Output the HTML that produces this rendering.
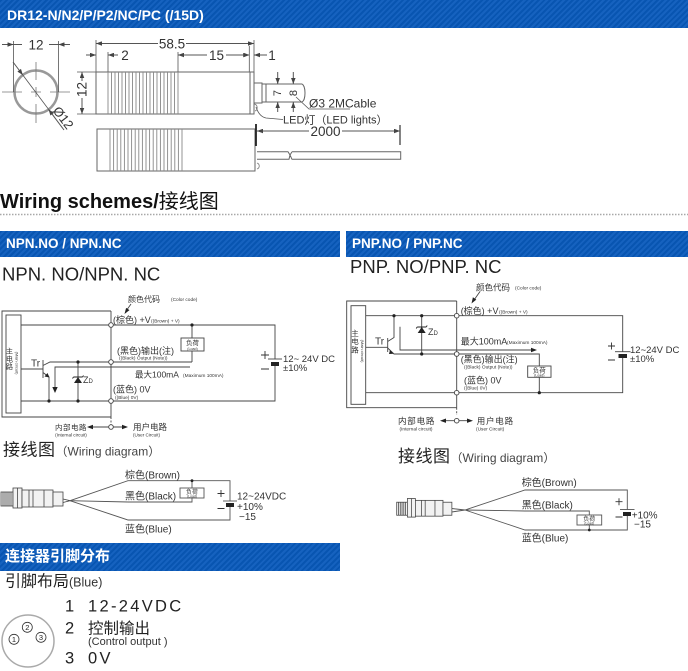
<!DOCTYPE html>
<html><head><meta charset="utf-8">
<style>
*{margin:0;padding:0;box-sizing:border-box}
body{width:688px;height:671px;background:#fff;position:relative;overflow:hidden;font-family:"Liberation Sans","Noto Sans CJK SC",sans-serif;}
.bar{position:absolute;background:repeating-linear-gradient(135deg,#0855b1 0 2px,#1662bf 2px 4px);color:#fff;font-weight:bold;white-space:nowrap}
svg{position:absolute;left:0;top:0}
</style></head><body>
<div class="bar" style="left:0;top:0;width:688px;height:28px;font-size:14px;line-height:30px;padding-left:7px">DR12-N/N2/P/P2/NC/PC (/15D)</div>
<div class="bar" style="left:0;top:231px;width:340px;height:26px;font-size:13.5px;line-height:26px;padding-left:6px">NPN.NO / NPN.NC</div>
<div class="bar" style="left:346px;top:231px;width:342px;height:26px;font-size:13.5px;line-height:26px;padding-left:6px">PNP.NO / PNP.NC</div>
<div class="bar" style="left:0;top:543px;width:340px;height:28px;font-size:15px;line-height:28px;padding-left:5px">连接器引脚分布</div>

<svg width="688" height="671" viewBox="0 0 688 671" font-family="'Liberation Sans','Noto Sans CJK SC',sans-serif">
<defs>
<marker id="a" viewBox="0 0 8 6" refX="8" refY="3" markerWidth="7" markerHeight="4.5" orient="auto-start-reverse" markerUnits="userSpaceOnUse"><path d="M0 0L8 3L0 6z" fill="#444"/></marker>
</defs>

<!-- ===== Dimension drawing ===== -->
<g stroke="#555" fill="none" stroke-width="1">
  <circle cx="36" cy="92" r="21.5" stroke="#999" stroke-width="2.5"/>
  <path d="M2 92H22M31 92H41M50 92H70M36 62V80M36 87V97M36 104V123" stroke="#777" stroke-width="0.8"/>
  <path d="M13.5 41V92M58.5 41V92" stroke-width="0.8"/>
  <line x1="2" y1="44.5" x2="13.5" y2="44.5" marker-end="url(#a)"/>
  <line x1="70" y1="44.5" x2="58.5" y2="44.5" marker-end="url(#a)"/>
  <path d="M13.5 44.5H22M49 44.5H58.5"/>
  <path d="M22.8 75L48.6 109.4" stroke-width="0.8"/>
  <line x1="13" y1="62" x2="22.8" y2="75" marker-end="url(#a)"/>
  <line x1="64" y1="130" x2="48.6" y2="109.4" marker-end="url(#a)"/>

  <!-- side view dims -->
  <path d="M96 40V72M254 40V72M249.3 46V72M108 52V72M178 52V72" stroke-width="0.8"/>
  <line x1="158" y1="43.5" x2="96" y2="43.5" marker-end="url(#a)"/>
  <line x1="186" y1="43.5" x2="254" y2="43.5" marker-end="url(#a)"/>
  <line x1="86" y1="55" x2="96" y2="55" marker-end="url(#a)"/>
  <line x1="118" y1="55" x2="108" y2="55" marker-end="url(#a)"/>
  <line x1="207" y1="55" x2="178" y2="55" marker-end="url(#a)"/>
  <line x1="226" y1="55" x2="249.3" y2="55" marker-end="url(#a)"/>
  <line x1="236" y1="55" x2="249.3" y2="55" marker-end="url(#a)"/>
  <line x1="267" y1="55" x2="254" y2="55" marker-end="url(#a)"/>
  <!-- vertical 12 -->
  <path d="M77 72H96M77 114H96" stroke-width="0.8"/>
  <line x1="82" y1="81" x2="82" y2="72" marker-end="url(#a)"/>
  <line x1="82" y1="98" x2="82" y2="114" marker-end="url(#a)"/>
  <!-- body 1 -->
  <rect x="96" y="72" width="154" height="42" stroke="#666"/>
  <rect x="250" y="72" width="4" height="42" stroke="#666"/>
  <path d="M108 72V114M111.5 72V114M115 72V114M118.5 72V114M122 72V114M125.5 72V114M129 72V114M132.5 72V114M136 72V114M139.5 72V114M143 72V114M146.5 72V114M150 72V114M153.5 72V114M157 72V114M160.5 72V114M164 72V114M167.5 72V114M171 72V114M174.5 72V114M178 72V114" stroke="#888" stroke-width="0.9"/>
  <!-- cable stub -->
  <rect x="254" y="83" width="8" height="20" stroke="#666"/>
  <path d="M262 84H302M262 102H302M302 84C306 86 306 100 302 102M266 84V102" stroke="#666"/>
  <line x1="277.7" y1="72" x2="277.7" y2="84" marker-end="url(#a)"/>
  <line x1="277.7" y1="112" x2="277.7" y2="102" marker-end="url(#a)"/>
  <line x1="293.3" y1="72" x2="293.3" y2="84" marker-end="url(#a)"/>
  <line x1="293.3" y1="112" x2="293.3" y2="102" marker-end="url(#a)"/>
  <path d="M296 97L309 109H350" stroke-width="0.8"/>
  <path d="M256 107C258 113 261 117 266 118L283 119.5" stroke-width="0.8"/>
  <path d="M254.5 104C258 105 258 110 255 111" stroke="#777" stroke-width="0.8"/>

  <!-- body 2 -->
  <rect x="97" y="129" width="158" height="42" stroke="#666"/>
  <path d="M110 129V171M113.6 129V171M117.2 129V171M120.8 129V171M124.4 129V171M128 129V171M131.6 129V171M135.2 129V171M138.8 129V171M142.4 129V171M146 129V171M149.6 129V171M153.2 129V171M156.8 129V171M160.4 129V171M164 129V171M167.6 129V171M171.2 129V171M174.8 129V171M178.4 129V171M182 129V171" stroke="#888" stroke-width="0.9"/>
  <path d="M256 124V146" stroke="#222" stroke-width="1.8"/>
  <path d="M400 125V145" stroke="#333" stroke-width="1.2"/>
  <line x1="309" y1="131" x2="257" y2="131" marker-end="url(#a)"/>
  <line x1="342" y1="131" x2="400" y2="131" marker-end="url(#a)"/>
  <path d="M257 151.7H288L290 155L289 159.3H257M292 151.7L290 155L292 159.3H400.7V151.7H292" stroke="#666"/>
  <path d="M257 163C260 164 260 168 257 169" stroke="#777" stroke-width="0.8"/>
</g>
<g fill="#333" font-size="13.5">
  <text x="36" y="49.5" text-anchor="middle">12</text>
  <text transform="translate(52.3,110.7) rotate(53)" font-size="13">Ø12</text>
  <text x="172" y="48.5" text-anchor="middle">58.5</text>
  <text x="125" y="60" text-anchor="middle">2</text>
  <text x="216.5" y="60" text-anchor="middle">15</text>
  <text x="272" y="60" text-anchor="middle">1</text>
  <text transform="translate(86.7,89.5) rotate(-90)" text-anchor="middle">12</text>
  <text transform="translate(281,93) rotate(-90)" text-anchor="middle" font-size="11">7</text>
  <text transform="translate(297,93) rotate(-90)" text-anchor="middle" font-size="11">8</text>
  <text x="309" y="107.5" font-size="12">Ø3 2MCable</text>
  <text x="283" y="123.5" font-size="11">LED灯（LED lights）</text>
  <text x="325.5" y="136" text-anchor="middle">2000</text>
</g>

<!-- ===== Wiring schemes title ===== -->
<text x="0" y="208" font-size="20" font-weight="bold" fill="#111">Wiring schemes/<tspan font-weight="normal">接线图</tspan></text>
<line x1="0" y1="214.5" x2="688" y2="214.5" stroke="#a8a8a8" stroke-width="1.5" stroke-dasharray="1.5 1.5"/>

<text x="2" y="280.5" font-size="18.5" fill="#222">NPN. NO/NPN. NC</text>
<text x="350" y="273" font-size="18.5" fill="#222">PNP. NO/PNP. NC</text>

<!-- ===== NPN circuit ===== -->
<g stroke="#444" fill="none" stroke-width="0.9">
  <path d="M111 311H2V417H111"/>
  <path d="M111 311V417"/>
  <path d="M111 417V426" stroke-dasharray="2 1.5"/>
  <rect x="6" y="315" width="15" height="98"/>
  <path d="M21 325H275V359M275 366V401H21"/>
  <path d="M268 359H282"/>
  <path d="M21 369H43M43 360V378M43 365.5L50 362H192M43 372.5L49 377V401"/>
  <path d="M78 362V401"/>
  <path d="M192 325V338M192 351V362"/>
  <rect x="181" y="338" width="23" height="13"/>
  <path d="M190 367H55V388"/>
  <path d="M92 427H108.7M113.3 427H123"/>
  <path d="M131 304L126 311"/>
  <path d="M261 355H269M265 351V359M261 369H269" stroke="#333"/>
  <path d="M73.5 377H82.5M73.5 377l-1 1.5M82.5 377l1 -1.5" stroke="#222"/>
</g>
<g fill="#222">
  <rect x="271" y="362" width="8" height="4"/>
  <path d="M74 383H82L78 377Z"/>
  <path d="M55 393L52.3 387H57.7Z"/>
  <path d="M49.5 377.5L44.5 376.5L47.5 373Z"/>
  <path d="M87 427L93 424.8V429.2Z"/>
  <path d="M128 427L122 424.8V429.2Z"/>
  <path d="M124.5 314L129.5 310.1L126.1 307.9Z"/>
  <circle cx="192" cy="325" r="1.6"/><circle cx="78" cy="362" r="1.6"/><circle cx="78" cy="401" r="1.6"/><circle cx="49" cy="401" r="1.6"/>
</g>
<g fill="#fff" stroke="#444" stroke-width="0.9">
  <circle cx="111" cy="325" r="2.3"/><circle cx="111" cy="362" r="2.3"/><circle cx="111" cy="401" r="2.3"/><circle cx="111" cy="427" r="2.3"/>
</g>
<g fill="#333">
  <text x="128" y="302" font-size="8">颜色代码</text>
  <text x="171" y="301" font-size="4.8">(Color code)</text>
  <text x="113" y="323" font-size="9">(棕色) +V</text>
  <text x="151" y="322.5" font-size="4.8">((Brown) + V)</text>
  <text x="117" y="354" font-size="9">(黑色)输出(注)</text>
  <text x="119" y="359.5" font-size="4.8">((Black) Output (Note))</text>
  <text x="135" y="377.5" font-size="8.5">最大100mA</text>
  <text x="183" y="377" font-size="4.8">(Maximum 100mA)</text>
  <text x="113" y="392.5" font-size="9">(蓝色) 0V</text>
  <text x="115" y="399" font-size="4.8">((Blue) 0V)</text>
  <text x="192.5" y="345" font-size="6.5" text-anchor="middle">负荷</text>
  <text x="192.5" y="349.8" font-size="3.6" text-anchor="middle">(Load)</text>
  <text x="283" y="362" font-size="9.5">12~ 24V DC</text>
  <text x="283" y="371" font-size="9.5">±10%</text>
  <text x="31" y="366.5" font-size="10">Tr</text>
  <text x="83" y="383" font-size="9">Z<tspan font-size="6">D</tspan></text>
  <text x="9.5" y="353.5" font-size="7" text-anchor="middle">主</text>
  <text x="9.5" y="361.5" font-size="7" text-anchor="middle">电</text>
  <text x="9.5" y="369" font-size="7" text-anchor="middle">路</text>
  <text transform="translate(15.5,363) rotate(90)" font-size="4" text-anchor="middle">(Main circuit)</text>
  <text x="55" y="430" font-size="7.5" letter-spacing="0.5">内部电路</text>
  <text x="71" y="436.5" font-size="4.6" text-anchor="middle">(Internal circuit)</text>
  <text x="133" y="430" font-size="8.5">用户电路</text>
  <text x="133" y="436.5" font-size="4.6">(User Circuit)</text>
</g>

<!-- ===== PNP circuit ===== -->
<g stroke="#444" fill="none" stroke-width="0.9">
  <path d="M456.7 301H346.7V407.7H456.7"/>
  <path d="M456.7 301V407.7"/>
  <path d="M456.7 407.7V415" stroke-dasharray="2 1.5"/>
  <rect x="351" y="305.7" width="14.7" height="98.6"/>
  <path d="M365.7 315.7H622.7V351.7M622.7 358V392.7H365.7"/>
  <path d="M615 351.7H630.5"/>
  <path d="M365.7 347.3H387.7M387.7 338V352M387.7 341.5L394 337.5V315.7M387.7 348L394 354H539.3V366M539.3 377.3V392.7"/>
  <path d="M421.7 315.7V354"/>
  <rect x="527.7" y="366" width="23.3" height="11.3"/>
  <path d="M400 326.7V350H533"/>
  <path d="M445 420.7H454.4M459 420.7H468"/>
  <path d="M480 291.5L473 301.5"/>
  <path d="M608 346H615M611.5 342.5V349.5M608 360H615" stroke="#333"/>
  <path d="M417.2 327H426.2M417.2 327l-1 1.5M426.2 327l1 -1.5" stroke="#222"/>
</g>
<g fill="#222">
  <rect x="618.5" y="354" width="8.5" height="4"/>
  <path d="M417.7 333H425.7L421.7 327Z"/>
  <path d="M537 350L531 347.8V352.2Z"/>
  <path d="M390 350L393.5 353.8L389 354Z"/>
  <path d="M440 420.7L446 418.5V422.9Z"/>
  <path d="M473 420.7L467 418.5V422.9Z"/>
  <path d="M471.5 303.5L476.3 299.6L472.9 297.3Z"/>
  <circle cx="394" cy="315.7" r="1.6"/><circle cx="421.7" cy="315.7" r="1.6"/><circle cx="421.7" cy="354" r="1.6"/><circle cx="539.3" cy="392.7" r="1.6"/>
</g>
<g fill="#fff" stroke="#444" stroke-width="0.9">
  <circle cx="456.7" cy="315.7" r="2.3"/><circle cx="456.7" cy="354" r="2.3"/><circle cx="456.7" cy="392.7" r="2.3"/><circle cx="456.7" cy="420.7" r="2.3"/>
</g>
<g fill="#333">
  <text x="476" y="290.5" font-size="8.5">颜色代码</text>
  <text x="515" y="289.5" font-size="4.8">(Color code)</text>
  <text x="460.7" y="314" font-size="9">(棕色) +V</text>
  <text x="499" y="313.5" font-size="4.8">((Brown) + V)</text>
  <text x="460.7" y="344.5" font-size="9">最大100mA</text>
  <text x="507" y="344" font-size="4.8">(Maximum 100mA)</text>
  <text x="460.7" y="362.5" font-size="9">(黑色)输出(注)</text>
  <text x="464" y="368.5" font-size="4.8">((Black) Output (Note))</text>
  <text x="464" y="383.5" font-size="9">(蓝色) 0V</text>
  <text x="464" y="389.5" font-size="4.8">((Blue) 0V)</text>
  <text x="539.3" y="372.5" font-size="6.5" text-anchor="middle">负荷</text>
  <text x="539.3" y="376.6" font-size="3.6" text-anchor="middle">(Load)</text>
  <text x="630" y="353" font-size="9.5">12~24V DC</text>
  <text x="630" y="362" font-size="9.5">±10%</text>
  <text x="375" y="344.5" font-size="10">Tr</text>
  <text x="428" y="335" font-size="9">Z<tspan font-size="6">D</tspan></text>
  <text x="355" y="335.8" font-size="7.5" text-anchor="middle">主</text>
  <text x="355" y="344.2" font-size="7.5" text-anchor="middle">电</text>
  <text x="355" y="352.5" font-size="7.5" text-anchor="middle">路</text>
  <text transform="translate(361,351) rotate(90)" font-size="4" text-anchor="middle">(Main circuit)</text>
  <text x="398" y="424" font-size="8.5" letter-spacing="0.8">内部电路</text>
  <text x="416" y="430.5" font-size="4.8" text-anchor="middle">(Internal circuit)</text>
  <text x="476.7" y="424" font-size="8.5" letter-spacing="0.8">用户电路</text>
  <text x="476" y="430.5" font-size="4.8">(User Circuit)</text>
</g>

<!-- ===== Wiring diagram titles ===== -->
<text x="3" y="455.5" font-size="17" fill="#222" letter-spacing="0.5">接线图<tspan font-size="12" fill="#444" letter-spacing="0">（Wiring diagram）</tspan></text>
<text x="398" y="462" font-size="17" fill="#222" letter-spacing="0.5">接线图<tspan font-size="12" fill="#444" letter-spacing="0">（Wiring diagram）</tspan></text>

<!-- ===== Bottom-left wiring ===== -->
<g id="sensorL" transform="translate(1,488)" stroke="#444" stroke-width="0.8" fill="#f2f2f2">
  <rect x="0" y="4" width="12" height="14"/>
  <path d="M2 4V18M4 4V18M6 4V18M8 4V18M10 4V18" fill="none"/>
  <rect x="12" y="0" width="9" height="20"/>
  <path d="M16.5 0V20" fill="none"/>
  <rect x="21" y="2" width="31" height="17"/>
  <path d="M28 2V19M32 2V19M43 2V19" fill="none"/>
  <rect x="52" y="4" width="10" height="14"/>
  <path d="M62 11L69 12.7M62 14.5L69 12.7" fill="none"/>
</g>
<g stroke="#555" fill="none" stroke-width="0.9">
  <path d="M70 500.7L128 480.7H230V501M230 507V520H128L70 500.7"/>
  <path d="M70 500.7L128 502H192V498"/>
  <path d="M192 480.7V488"/>
  <rect x="180" y="488" width="24" height="10"/>
  <path d="M223 501H237"/>
  <path d="M217.5 493.5H224.5M221 490V497M217.5 508.5H224.5" stroke="#333"/>
</g>
<rect x="226" y="503" width="8" height="4" fill="#222"/>
<circle cx="192" cy="480.7" r="1.4" fill="#222"/>
<g fill="#333">
  <text x="125" y="478.5" font-size="10">棕色(Brown)</text>
  <text x="125" y="499.5" font-size="10">黑色(Black)</text>
  <text x="125" y="532.5" font-size="10">蓝色(Blue)</text>
  <text x="192" y="494" font-size="6" text-anchor="middle">负荷</text>
  <text x="192" y="497.5" font-size="3.4" text-anchor="middle">(Load)</text>
  <text x="237" y="499.5" font-size="10">12~24VDC</text>
  <text x="237" y="510" font-size="10">+10%</text>
  <text x="239" y="520" font-size="10">−15</text>
</g>

<!-- ===== Bottom-right wiring ===== -->
<g transform="translate(396.7,498.5) scale(0.89,0.93)" stroke="#444" stroke-width="0.85" fill="#f2f2f2">
  <rect x="0" y="4" width="12" height="14"/>
  <path d="M2 4V18M4 4V18M6 4V18M8 4V18M10 4V18" fill="none"/>
  <rect x="12" y="0" width="9" height="20"/>
  <path d="M16.5 0V20" fill="none"/>
  <rect x="21" y="2" width="31" height="17"/>
  <path d="M28 2V19M32 2V19M43 2V19" fill="none"/>
  <rect x="52" y="4" width="10" height="14"/>
</g>
<g stroke="#555" fill="none" stroke-width="0.9">
  <path d="M451.7 508.5L465 510M451.7 512L465 510"/>
  <path d="M465 510L525 490H627.3V509.5M627.3 516V530H525L465 510"/>
  <path d="M465 510L525 511H589.3V515M589.3 525V530"/>
  <rect x="577" y="515" width="24.7" height="10"/>
  <path d="M620 509.5H634.5"/>
  <path d="M615.5 501.7H622.5M619 498.2V505.2M615.5 517H622.5" stroke="#333"/>
</g>
<rect x="623" y="512" width="8" height="4" fill="#222"/>
<circle cx="589.3" cy="530" r="1.4" fill="#222"/>
<g fill="#333">
  <text x="521.7" y="486" font-size="10">棕色(Brown)</text>
  <text x="521.7" y="508.5" font-size="10">黑色(Black)</text>
  <text x="521.7" y="541.5" font-size="10">蓝色(Blue)</text>
  <text x="589.3" y="521" font-size="6" text-anchor="middle">负荷</text>
  <text x="589.3" y="524.5" font-size="3.4" text-anchor="middle">(Load)</text>
  <text x="631.7" y="518.5" font-size="10">+10%</text>
  <text x="634" y="527.5" font-size="10">−15</text>
</g>

<!-- ===== Connector section ===== -->
<text x="5" y="586.5" font-size="16" fill="#222">引脚布局<tspan font-size="12.5" fill="#333">(Blue)</tspan></text>
<circle cx="28" cy="641" r="26" fill="none" stroke="#aaa" stroke-width="1.5"/>
<g fill="none" stroke="#333" stroke-width="0.8">
  <circle cx="27.3" cy="627.3" r="5"/>
  <circle cx="14" cy="639.3" r="5"/>
  <circle cx="41" cy="637.3" r="5"/>
</g>
<g fill="#222" font-size="7.5" text-anchor="middle">
  <text x="27.3" y="630">2</text>
  <text x="14" y="642">1</text>
  <text x="41" y="640">3</text>
</g>
<g fill="#222" font-size="16.5">
  <text x="65" y="611.5">1</text>
  <text x="88" y="611.5" letter-spacing="2.3">12-24VDC</text>
  <text x="65" y="633.3">2</text>
  <text x="88" y="633.5" font-size="15.5">控制输出</text>
  <text x="88" y="644.8" font-size="11" fill="#333">(Control output )</text>
  <text x="65" y="663.3">3</text>
  <text x="88" y="663.3" letter-spacing="2.3">0V</text>
</g>
</svg>
</body></html>
